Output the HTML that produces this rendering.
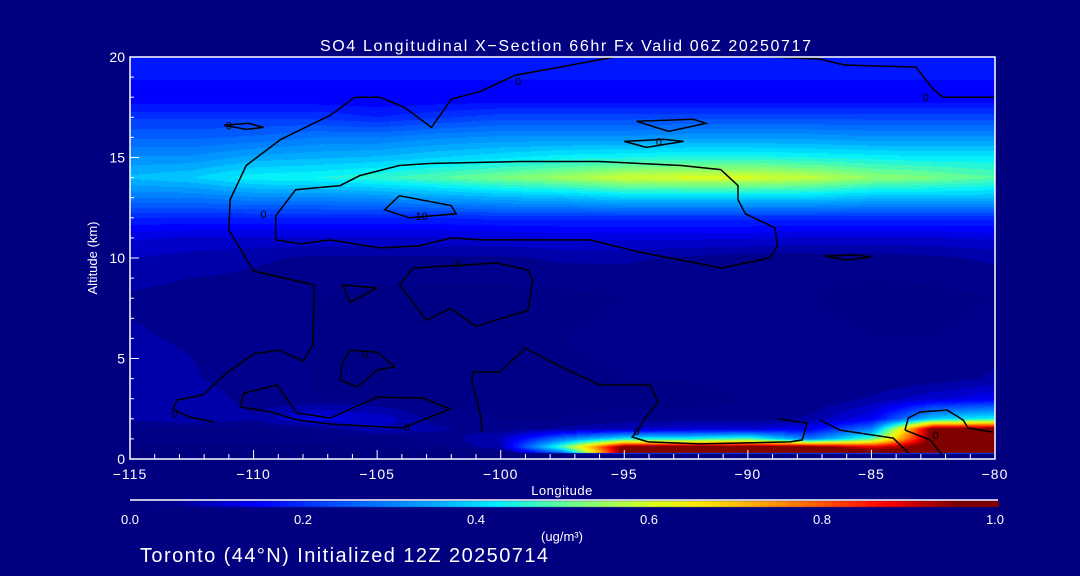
<!DOCTYPE html>
<html><head><meta charset="utf-8">
<style>
html,body{margin:0;padding:0;background:#000080;}
#wrap{position:relative;width:1080px;height:576px;background:#000080;overflow:hidden;font-family:"Liberation Sans",sans-serif;color:#fff;}
canvas{position:absolute;left:0;top:0;}
svg{position:absolute;left:0;top:0;}
</style></head>
<body>
<div id="wrap">
<canvas id="cv" width="1080" height="576"></canvas>
<svg id="sv" width="1080" height="576"></svg>
</div>
<script>
const lons=[-115,-112.5,-110,-107.5,-105,-102.5,-100,-97.5,-95,-92.5,-90,-87.5,-85,-82.5,-80];
const alts=[0,0.26,0.32,0.6,1.0,1.5,2.0,3,4,6,8,10,11,12,13,14,15,16,17,18,19,20];
const so4=[
[0,0,0,0,0,0,0,0,0,0,0,0,0,0,0],
[0,0,0,0,0,0,0,0,0,0,0,0,0,0,0],
[0.01,0.01,0.01,0.01,0.01,0.01,0.02,0.3,1,1,1,1,1,1,1],
[0.02,0.02,0.02,0.02,0.03,0.04,0.1,0.5,1,1,1,1,0.9,1,1],
[0.03,0.03,0.03,0.03,0.04,0.06,0.1,0.3,0.45,0.45,0.5,0.3,0.5,1,1],
[0.04,0.04,0.04,0.06,0.1,0.08,0.06,0.08,0.1,0.12,0.12,0.15,0.3,1,1],
[0.08,0.1,0.08,0.14,0.12,0.06,0.05,0.05,0.06,0.06,0.06,0.08,0.15,0.4,0.45],
[0.1,0.1,0.06,0.05,0.05,0.04,0.04,0.04,0.04,0.04,0.05,0.05,0.08,0.12,0.15],
[0.1,0.08,0.05,0.05,0.04,0.04,0.04,0.04,0.05,0.05,0.06,0.05,0.05,0.06,0.08],
[0.08,0.07,0.06,0.05,0.05,0.04,0.04,0.05,0.06,0.07,0.07,0.06,0.05,0.05,0.06],
[0.07,0.06,0.06,0.05,0.04,0.04,0.04,0.04,0.05,0.05,0.05,0.05,0.04,0.04,0.05],
[0.1,0.09,0.08,0.07,0.07,0.07,0.07,0.08,0.08,0.07,0.06,0.06,0.06,0.07,0.08],
[0.13,0.12,0.12,0.12,0.12,0.12,0.12,0.13,0.13,0.13,0.13,0.12,0.12,0.12,0.13],
[0.2,0.2,0.2,0.2,0.2,0.2,0.21,0.21,0.21,0.21,0.21,0.21,0.21,0.21,0.21],
[0.3,0.3,0.32,0.32,0.33,0.35,0.37,0.38,0.4,0.4,0.4,0.4,0.38,0.38,0.38],
[0.38,0.4,0.44,0.45,0.47,0.5,0.53,0.56,0.6,0.61,0.61,0.59,0.55,0.53,0.5],
[0.33,0.33,0.36,0.37,0.38,0.4,0.42,0.44,0.45,0.46,0.46,0.45,0.44,0.43,0.43],
[0.27,0.27,0.28,0.3,0.3,0.32,0.33,0.33,0.33,0.34,0.34,0.34,0.33,0.33,0.33],
[0.22,0.22,0.22,0.22,0.2,0.22,0.24,0.24,0.24,0.24,0.24,0.24,0.24,0.24,0.24],
[0.15,0.15,0.15,0.15,0.15,0.15,0.15,0.15,0.15,0.15,0.15,0.15,0.15,0.15,0.15],
[0.18,0.18,0.18,0.18,0.18,0.18,0.18,0.18,0.18,0.18,0.18,0.18,0.18,0.18,0.18],
[0.2,0.2,0.2,0.2,0.2,0.2,0.2,0.2,0.2,0.2,0.2,0.2,0.2,0.2,0.2]
];
const xTicks=[-115,-110,-105,-100,-95,-90,-85,-80];
const yTicks=[0,5,10,15,20];
const cbTicks=[0,0.2,0.4,0.6,0.8,1.0];
const contourA=[[-111.6,1.84],[-112.6,2.09],[-113.26,2.49],[-113.1,2.94],[-112.05,3.18],[-111.1,4.28],[-110.0,5.22],[-109.0,5.42],[-108.0,4.88],[-107.6,5.67],[-107.55,8.66],[-110.0,9.35],[-111.0,11.4],[-110.95,12.9],[-110.3,14.6],[-108.9,15.9],[-106.9,17.1],[-105.9,18.0],[-104.9,18.0],[-103.9,17.5],[-102.8,16.5],[-102.0,17.9],[-100.8,18.3],[-99.4,19.1],[-97.6,19.5],[-95.4,20.0]];
const contourA2=[[-89.1,20],[-87.1,19.9],[-86.1,19.6],[-83.2,19.5],[-82.5,18.4],[-82.1,18.0],[-80,18.0]];
const contourB=[[-109.1,10.9],[-109.1,12.1],[-108.3,13.4],[-106.5,13.6],[-105.7,14.1],[-104.1,14.6],[-102.9,14.7],[-99.2,14.8],[-96.0,14.8],[-92.7,14.6],[-91.1,14.4],[-90.4,13.6],[-90.4,12.9],[-90.1,12.2],[-88.9,11.5],[-88.8,10.6],[-89.1,10.0],[-91.1,9.5],[-92.3,9.8],[-94.4,10.3],[-96.4,10.9],[-97.6,10.9],[-100.8,10.9],[-102.0,11.0],[-103.3,10.6],[-104.9,10.5],[-106.9,10.9],[-108.1,10.7],[-109.1,10.9]];
const contourC=[[-104.1,13.1],[-102.0,12.6],[-101.8,12.2],[-103.7,12.0],[-104.7,12.4],[-104.1,13.1]];
const contourD=[[-103.55,9.5],[-100.15,9.75],[-98.9,9.4],[-98.7,8.9],[-98.9,7.4],[-101.0,6.6],[-102.05,7.5],[-103.0,6.9],[-104.1,8.66],[-103.55,9.5]];
const contourD2=[[-105.0,8.5],[-106.1,7.8],[-106.4,8.66],[-105.0,8.5]];
const contourE=[[-110.55,2.59],[-110.4,3.28],[-109.05,3.68],[-108.24,2.29],[-106.9,2.04],[-105.0,3.08],[-103.14,3.03],[-102.05,2.49],[-103.95,1.54],[-106.9,1.74],[-108.24,1.94],[-109.3,2.34],[-110.55,2.59]];
const contourF=[[-106.1,5.42],[-105.0,5.32],[-104.3,4.58],[-105.0,4.43],[-105.8,3.58],[-106.5,3.93],[-106.4,4.78],[-106.1,5.42]];
const contourG=[[-100.75,1.34],[-100.84,2.29],[-101.16,3.83],[-101.12,4.33],[-100.03,4.33],[-99.0,5.52],[-97.72,4.68],[-95.98,3.68],[-93.96,3.68],[-93.63,2.84],[-94.16,2.04],[-94.36,1.59],[-94.68,1.09],[-94.04,0.85],[-91.93,0.75],[-88.29,0.85],[-87.8,0.95],[-87.6,1.79],[-88.78,1.99]];
const contourH=[[-87.08,1.94],[-86.27,1.44],[-84.12,1.04],[-83.84,0.70],[-83.5,0.30]];
const contourI=[[-83.64,1.44],[-83.51,2.04],[-83.03,2.34],[-81.94,2.44],[-81.29,1.94],[-81.09,1.54],[-80.08,1.34]];
const contourJ=[[-83.64,1.44],[-82.62,0.95],[-82.14,0.2]];
const contourSmall=[[-111.2,16.6],[-110.2,16.7],[-109.6,16.5],[-110.3,16.4],[-111.2,16.6]];
const contourSmall2=[[-94.5,16.8],[-92.2,16.9],[-91.7,16.7],[-93.2,16.3],[-94.5,16.8]];
const contourSmall3=[[-95.0,15.8],[-93.4,15.9],[-92.6,15.8],[-94.1,15.5],[-95.0,15.8]];
const contourSmall4=[[-86.9,10.1],[-85.6,10.15],[-85.0,10.05],[-86.0,9.9],[-86.9,10.1]];

const X0=130,X1=995,Y0=459,Y1=57;
function xs(l){return X0+(l+115)/35*(X1-X0);}
function ys(a){return Y0-(a/20)*(Y0-Y1);}
function xinv(px){return -115+(px-X0)/(X1-X0)*35;}
function yinv(py){return (Y0-py)/(Y0-Y1)*20;}
const stops=[[0,[0,0,128]],[0.05,[0,0,140]],[0.1,[0,0,200]],[0.15,[0,0,255]],[0.25,[0,90,255]],[0.35,[0,170,255]],[0.42,[0,240,255]],[0.5,[100,255,150]],[0.6,[220,255,30]],[0.66,[255,230,0]],[0.75,[255,140,0]],[0.87,[255,0,0]],[0.95,[128,0,0]],[1,[128,0,0]]];
function cmap(v){v=Math.max(0,Math.min(1,v));for(let i=1;i<stops.length;i++){if(v<=stops[i][0]){const a=stops[i-1],b=stops[i];const t=(v-a[0])/(b[0]-a[0]||1);return a[1].map((c,k)=>Math.round(c+(b[1][k]-c)*t));}}return stops[stops.length-1][1];}
function idx(arr,v){for(let i=0;i<arr.length-1;i++){if(v<=arr[i+1])return i;}return arr.length-2;}
function sample(l,a){const i=idx(lons,l),j=idx(alts,a);const tx=(l-lons[i])/(lons[i+1]-lons[i]),ty=(a-alts[j])/(alts[j+1]-alts[j]);
const v00=so4[j][i],v10=so4[j][i+1],v01=so4[j+1][i],v11=so4[j+1][i+1];
return (v00*(1-tx)+v10*tx)*(1-ty)+(v01*(1-tx)+v11*tx)*ty;}
const cv=document.getElementById('cv');const ctx=cv.getContext('2d');
ctx.fillStyle='#000080';ctx.fillRect(0,0,1080,576);
const w=X1-X0,h=Y0-Y1;const img=ctx.createImageData(w,h);
for(let py=0;py<h;py++){for(let px=0;px<w;px++){let v=sample(xinv(X0+px+0.5),yinv(Y1+py+0.5));v=Math.floor(v*40)/40;const c=cmap(v);const o=(py*w+px)*4;img.data[o]=c[0];img.data[o+1]=c[1];img.data[o+2]=c[2];img.data[o+3]=255;}}
ctx.putImageData(img,X0,Y1);
for(let px=0;px<=868;px++){const c=cmap(px/868);ctx.fillStyle='rgb('+c.join(',')+')';ctx.fillRect(130+px,501,1,6);}

const NS='http://www.w3.org/2000/svg';const sv=document.getElementById('sv');
function el(t,attrs,parent){const e=document.createElementNS(NS,t);for(const k in attrs)e.setAttribute(k,attrs[k]);(parent||sv).appendChild(e);return e;}
function txt(s,x,y,size,anchor,name,extra){const e=el('text',Object.assign({x:x,y:y,fill:'#fff','font-size':size,'text-anchor':anchor||'middle','font-family':'Liberation Sans, sans-serif'},extra||{}));e.textContent=s;


return e;}
const contours=[contourA,contourA2,contourB,contourC,contourD,contourD2,contourE,contourF,contourG,contourH,contourI,contourJ,contourSmall,contourSmall2,contourSmall3,contourSmall4];
contours.forEach((c,k)=>{const p=el('polyline',{points:c.map(q=>xs(q[0]).toFixed(1)+','+ys(q[1]).toFixed(1)).join(' '),fill:'none',stroke:'#000','stroke-width':1.5});

});
[['0',-111,16.6],['0',-93.6,15.8],['10',-103.2,12.1],['0',-82.8,18.0],['0',-99.3,18.8],['0',-109.6,12.2],['0',-101.7,9.7],['0',-105.5,5.2],['0',-113.2,2.3],['0',-103.8,1.6],['0',-82.4,1.2],['0',-94.5,1.4]].forEach((q,k)=>{txt(q[0],xs(q[1]),ys(q[2])+4,11,'middle','contour-label-'+k,{fill:'#000'});});
const ax=el('path',{d:`M${X0},${Y1}H${X1}V${Y0}H${X0}Z`,fill:'none',stroke:'#fff','stroke-width':1.5});


for(let l=-115;l<=-80;l++){const major=xTicks.includes(l);const t=el('line',{x1:xs(l),x2:xs(l),y1:Y0,y2:Y0-(major?9:5),stroke:'#fff','stroke-width':1});

}
xTicks.forEach(l=>txt(String(l).replace('-','\u2212'),xs(l),479,14,'middle','x-tick-label',{'letter-spacing':'1'}));
for(let a=0;a<=20;a+=1){const major=yTicks.includes(a);const t=el('line',{x1:X0,x2:X0+(major?9:4),y1:ys(a),y2:ys(a),stroke:'#fff','stroke-width':1});

}
yTicks.forEach(a=>txt(String(a),X0-5,ys(a)+5,14,'end','y-tick-label'));
txt('Longitude',562,495,13,'middle','x-axis-title',{'letter-spacing':'0.5'});
txt('Altitude (km)',97,258,13,'middle','y-axis-title',{transform:'rotate(-90 97 258)'});
txt('SO4 Longitudinal X\u2212Section 66hr  Fx Valid 06Z 20250717',320,51,16,'start','chart-title',{textLength:491,lengthAdjust:'spacing','xml:space':'preserve'});
const cbl=el('line',{x1:130,x2:998,y1:500,y2:500,stroke:'#fff','stroke-width':1.5});


cbTicks.forEach(v=>txt(v.toFixed(1),130+v*865,524,13,'middle','colorbar-tick-label'));
txt('(ug/m\u00b3)',562,541,13,'middle','colorbar-unit');
txt('Toronto (44\u00b0N) Initialized 12Z 20250714',140,562,20,'start','footer-text',{textLength:408,lengthAdjust:'spacing'});
</script>
</body></html>
